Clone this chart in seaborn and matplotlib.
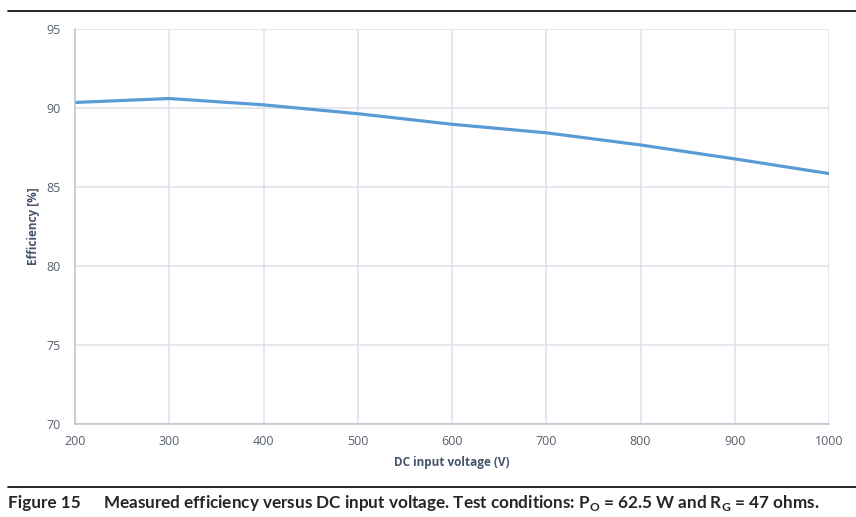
import matplotlib
matplotlib.use("Agg")
import matplotlib.pyplot as plt
import seaborn as sns
import pandas as pd

voltage = [200, 300, 400, 500, 600, 700, 800, 900, 1000]
efficiency = [90.35, 90.6, 90.2, 89.64, 88.97, 88.43, 87.66, 86.78, 85.85]
x_ticks = [200, 300, 400, 500, 600, 700, 800, 900, 1000]
y_ticks = [70, 75, 80, 85, 90, 95]

df = pd.DataFrame({"voltage": voltage, "efficiency": efficiency})

sns.set_style("white")
plt.rcParams["font.family"] = ["Open Sans", "DejaVu Sans"]
plt.rcParams["mathtext.fontset"] = "custom"
plt.rcParams["mathtext.rm"] = "Lato"
plt.rcParams["mathtext.bf"] = "Lato:bold"

fig = plt.figure(figsize=(8.56, 5.17), dpi=100)
ax = fig.add_axes([75 / 856, 93 / 517, 754 / 856, 395 / 517])

sns.lineplot(data=df, x="voltage", y="efficiency", color="#5b9bd5", linewidth=2.3, ax=ax)

ax.set_xlim(200, 1000)
ax.set_ylim(70, 95)
ax.set_xticks(x_ticks)
ax.set_yticks(y_ticks)
ax.grid(True, color="#dde2ea", linewidth=1.1)
ax.set_axisbelow(True)
for s in ["top", "right"]:
    ax.spines[s].set_visible(False)
for s in ["left", "bottom"]:
    ax.spines[s].set_color("#b8c2d2")
    ax.spines[s].set_linewidth(1.1)
ax.tick_params(axis="both", length=0, labelsize=9, labelcolor="#56606e")
ax.tick_params(axis="x", pad=8)
ax.tick_params(axis="y", pad=10)

ax.set_xlabel("DC input voltage (V)", fontsize=8.5, fontweight="bold", color="#44546a", labelpad=6)
ax.set_ylabel("Efficiency [%]", fontsize=8.5, fontweight="bold", color="#44546a")
ax.yaxis.set_label_coords(-35 / 754, 0.5)

# frame lines of the figure caption block
fig.add_artist(plt.Line2D([8 / 856, 1], [1 - 11 / 517] * 2, color="black", linewidth=1.2))
fig.add_artist(plt.Line2D([8 / 856, 1], [1 - 487 / 517] * 2, color="black", linewidth=1.2))

fig.text(8 / 856, 1 - 503 / 517, "Figure 15", fontsize=12.3, fontweight="bold",
         family="Lato", va="center", ha="left")
fig.text(103 / 856, 1 - 503 / 517,
         r"Measured efficiency versus DC input voltage. Test conditions: P$_\mathbf{O}$ = 62.5 W and R$_\mathbf{G}$ = 47 ohms.",
         fontsize=12.3, fontweight="bold", family="Lato", va="center", ha="left")

fig.savefig("out.png", dpi=100)
